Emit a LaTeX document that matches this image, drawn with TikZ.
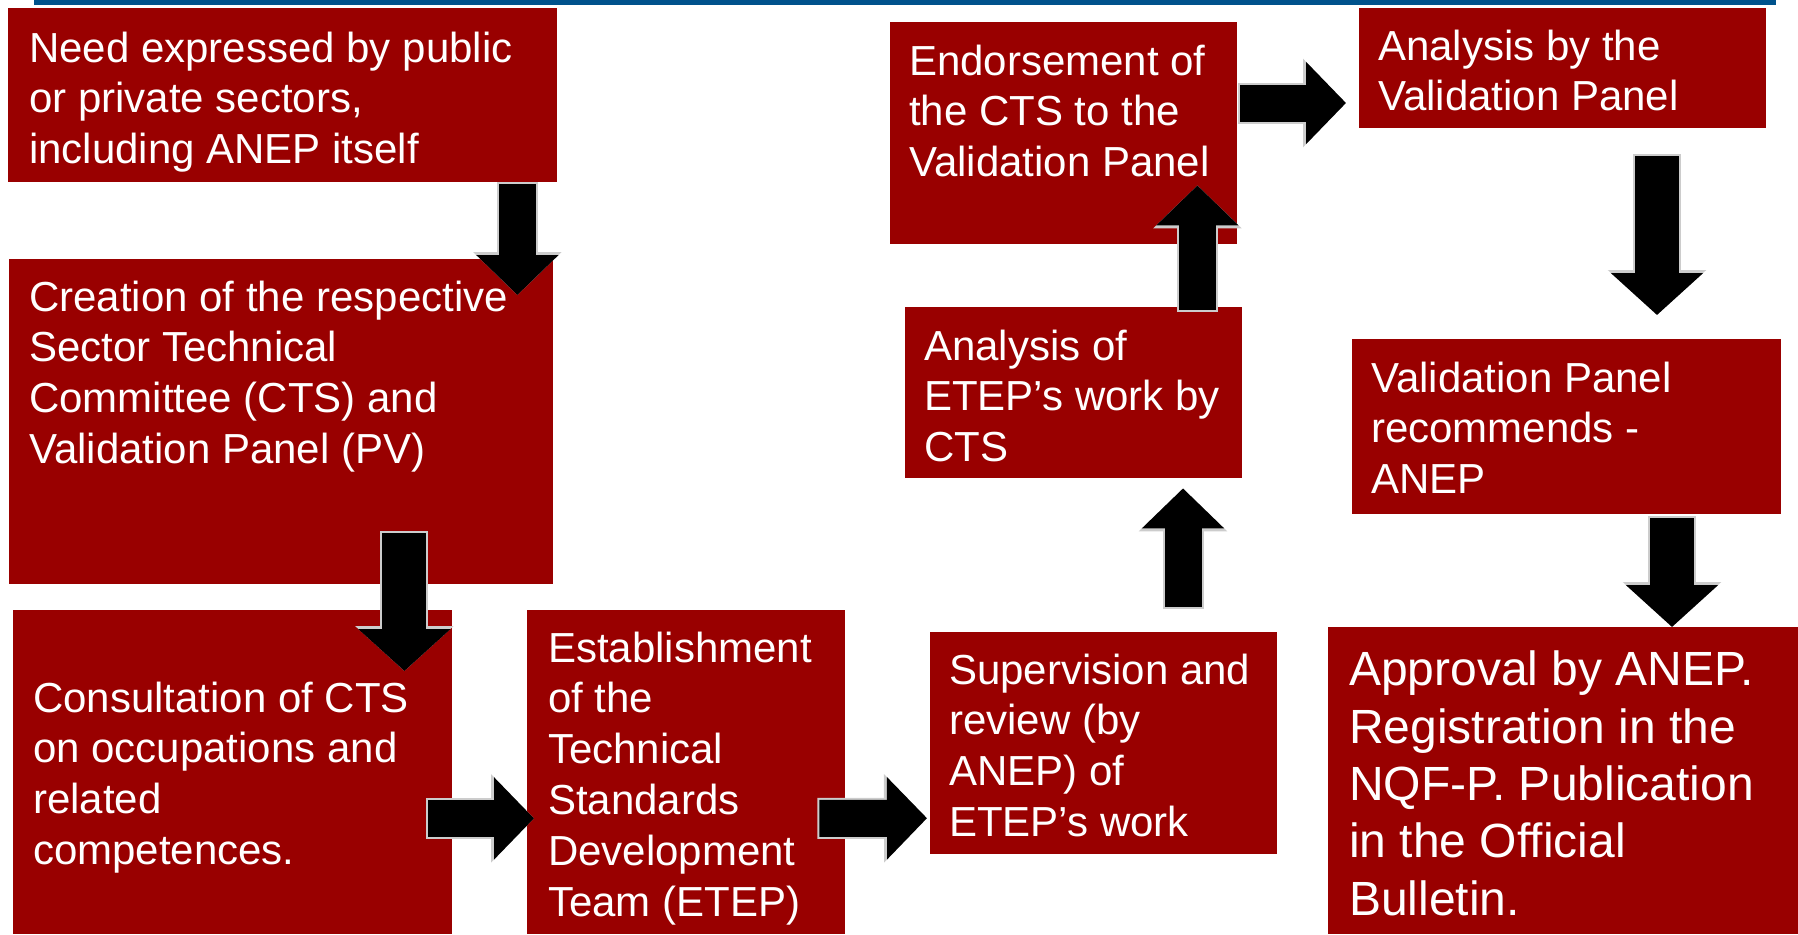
\documentclass[tikz,border=0pt]{standalone}
\usepackage{fontspec}
\setmainfont{Liberation Sans}
\usetikzlibrary{calc,arrows.meta}

\definecolor{boxred}{RGB}{153,0,0}
\definecolor{barblue}{RGB}{0,82,140}

\tikzset{
  box/.style={fill=boxred, anchor=north west, inner sep=0pt},
  txt/.style={text=white, anchor=north west, inner sep=0pt, align=left,
    font=\fontsize{42}{50.8}\selectfont, execute at begin node=\strut},
  bigtxt/.style={txt, font=\fontsize{48}{57.3}\selectfont},
  % black block arrows with a light rim
  fatarrow/.style={preaction={draw=gray!40, line width=41pt, shorten <=-2pt,
      -{Triangle[width=86pt,length=43pt]}},
    draw=black, line width=37pt, -{Triangle[width=80pt,length=40pt]}},
  hugearrow/.style={preaction={draw=gray!40, line width=48pt, shorten <=-2pt,
      -{Triangle[width=96pt,length=45pt]}},
    draw=black, line width=44pt, -{Triangle[width=90pt,length=42pt]}}
}

\begin{document}
\begin{tikzpicture}[x=1pt, y=-1pt]
\useasboundingbox (0,0) rectangle (1798,934);
\fill[barblue] (34,0) rectangle (1776,5);

% boxes
\node[box, minimum width=549pt, minimum height=174pt] (need) at (8,8) {};
\node[box, minimum width=544pt, minimum height=325pt] (create) at (9,259) {};
\node[box, minimum width=439pt, minimum height=324pt] (consult) at (13,610) {};
\node[box, minimum width=318pt, minimum height=324pt] (etep) at (527,610) {};
\node[box, minimum width=347pt, minimum height=222pt] (review) at (930,632) {};
\node[box, minimum width=337pt, minimum height=171pt] (cts) at (905,307) {};
\node[box, minimum width=347pt, minimum height=222pt] (endorse) at (890,22) {};
\node[box, minimum width=407pt, minimum height=120pt] (panel) at (1359,8) {};
\node[box, minimum width=429pt, minimum height=175pt] (recommend) at (1352,339) {};
\node[box, minimum width=470pt, minimum height=307pt] (approve) at (1328,627) {};

% texts
\node[txt] (needtxt) at (29,31.4) {Need expressed by public\\or private sectors,\\including ANEP itself};
\node[txt] (createtxt) at (29,280.4) {Creation of the respective\\Sector Technical\\Committee (CTS) and\\Validation Panel (PV)};
\node[txt] (consulttxt) at (33,681.4) {Consultation of CTS\\on occupations and\\related\\competences.};
\node[txt] (etextxt) at (548,631.4) {Establishment\\of the\\Technical\\Standards\\Development\\Team (ETEP)};
\node[txt] (reviewtxt) at (949,653.4) {Supervision and\\review (by\\ANEP) of\\ETEP’s work};
\node[txt] (ctstxt) at (924,329.4) {Analysis of\\ETEP’s work by\\CTS};
\node[txt] (endorsetxt) at (909,44.4) {Endorsement of\\the CTS to the\\Validation Panel};
\node[txt] (paneltxt) at (1378,29.4) {Analysis by the\\Validation Panel};
\node[txt] (recommendtxt) at (1371,361.4) {Validation Panel\\recommends -\\ANEP};
\node[bigtxt] (approvetxt) at (1349,650.9) {Approval by ANEP.\\Registration in the\\NQF-P. Publication\\in the Official\\Bulletin.};

% arrows
\draw[fatarrow] ($(need.south east)+(-40,2)$) -- ($(create.north east)+(-36,36)$);
\draw[hugearrow] ($(create.south east)+(-149,-51)$) -- ($(consult.north east)+(-48,61)$);
\draw[fatarrow] ($(consult.south east)+(-24,-116)$) -- ($(etep.south west)+(7,-116)$);
\draw[fatarrow] ($(etep.south east)+(-26,-116)$) -- ($(review.west)+(-3,75)$);
\draw[fatarrow] ($(review.north west)+(253,-25)$) -- ($(cts.south west)+(278,10)$);
\draw[fatarrow] ($(cts.north east)+(-45,3)$) -- ($(endorse.south east)+(-40,-59)$);
\draw[fatarrow] ($(endorse.north east)+(3,81)$) -- ($(panel.north west)+(-13,95)$);
\draw[hugearrow] ($(panel.south west)+(298,28)$) -- ($(recommend.north west)+(305,-24)$);
\draw[hugearrow] ($(recommend.south west)+(320,4)$) -- ($(approve.north west)+(344,0)$);
\end{tikzpicture}
\end{document}
